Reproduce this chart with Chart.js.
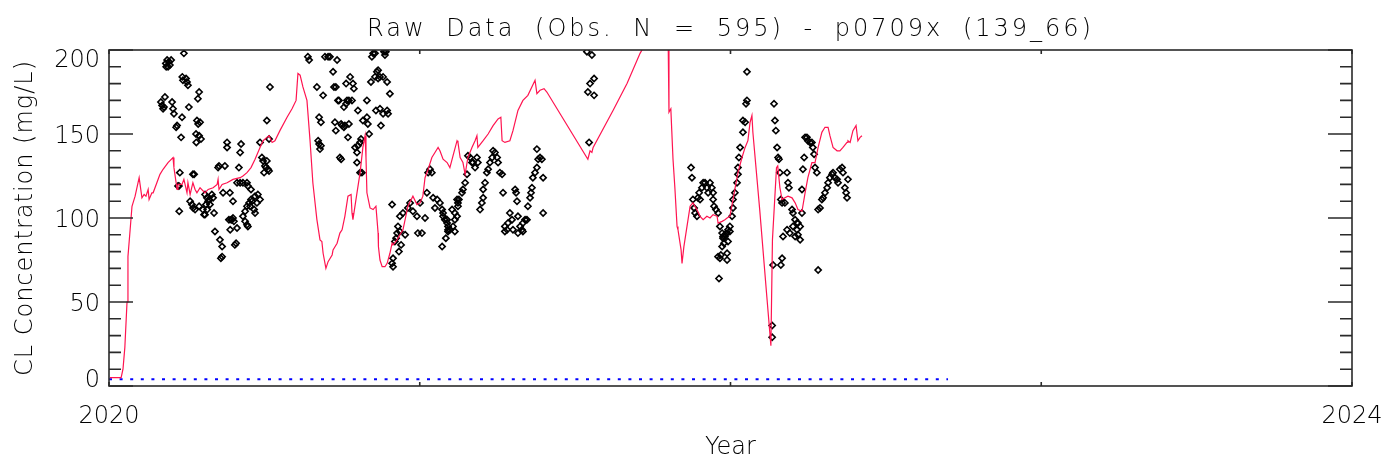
<!DOCTYPE html>
<html>
<head>
<meta charset="utf-8">
<title>Raw Data - p0709x</title>
<script src="https://cdn.jsdelivr.net/npm/chart.js@4.4.1/dist/chart.umd.min.js"></script>
<style>
  html, body { margin: 0; padding: 0; background: #fff; }
  #wrap { width: 1388px; height: 466px; }
</style>
</head>
<body>
<div id="wrap"><canvas id="rawChart" width="1388" height="466"></canvas></div>
<script>
// observations: decimal year / CL concentration (mg/L)
var obsYear = [
  2020.167, 2020.171, 2020.174, 2020.177, 2020.180, 2020.183, 2020.187, 2020.190, 2020.193, 2020.196,
  2020.200, 2020.184, 2020.203, 2020.206, 2020.209, 2020.216, 2020.219, 2020.232, 2020.235, 2020.241,
  2020.236, 2020.238, 2020.251, 2020.254, 2020.248, 2020.257, 2020.290, 2020.286, 2020.283, 2020.287,
  2020.293, 2020.280, 2020.290, 2020.296, 2020.281,
  2020.228, 2020.222, 2020.225, 2020.226, 2020.270, 2020.274, 2020.261, 2020.267, 2020.271, 2020.277,
  2020.290, 2020.302, 2020.306, 2020.309, 2020.309, 2020.315, 2020.319, 2020.325, 2020.331, 2020.335,
  2020.322, 2020.312, 2020.316, 2020.338, 2020.341, 2020.351, 2020.354, 2020.367, 2020.380, 2020.380,
  2020.373, 2020.389, 2020.399, 2020.386, 2020.393, 2020.396, 2020.399, 2020.402, 2020.390, 2020.412,
  2020.418, 2020.425, 2020.422, 2020.412, 2020.422, 2020.431, 2020.444, 2020.447, 2020.457, 2020.431,
  2020.438, 2020.444, 2020.447, 2020.438, 2020.444, 2020.451, 2020.457, 2020.460, 2020.454, 2020.470,
  2020.479, 2020.486, 2020.476, 2020.467, 2020.470, 2020.486, 2020.492, 2020.496, 2020.502, 2020.508,
  2020.505, 2020.512, 2020.515, 2020.499, 2020.518, 2020.508, 2020.515, 2020.357, 2020.364, 2020.360,
  2020.364, 2020.405, 2020.409,
  2020.640, 2020.644, 2020.695, 2020.705, 2020.711, 2020.734, 2020.669, 2020.689, 2020.676, 2020.682,
  2020.673, 2020.676, 2020.682, 2020.679, 2020.721, 2020.724, 2020.730, 2020.727, 2020.730, 2020.737,
  2020.740, 2020.743, 2020.747, 2020.750, 2020.747, 2020.756, 2020.759, 2020.769, 2020.772, 2020.756,
  2020.763, 2020.766, 2020.776, 2020.785, 2020.788, 2020.782, 2020.763, 2020.772, 2020.801, 2020.792,
  2020.798, 2020.801, 2020.808, 2020.811, 2020.798, 2020.808, 2020.814, 2020.817, 2020.830, 2020.833,
  2020.837, 2020.830, 2020.846, 2020.850, 2020.856, 2020.843, 2020.856, 2020.866, 2020.872, 2020.882,
  2020.895, 2020.904, 2020.859, 2020.872, 2020.882, 2020.895, 2020.898, 2020.862, 2020.866, 2020.888,
  2020.885, 2020.891, 2020.875, 2020.911,
  2020.914, 2020.914, 2020.911, 2020.920, 2020.924, 2020.927, 2020.936, 2020.953, 2020.930, 2020.936,
  2020.946, 2020.962, 2020.969, 2020.978, 2020.991, 2021.001, 2020.994, 2021.007, 2021.017, 2021.023,
  2021.027, 2021.033, 2021.039, 2021.043, 2021.049, 2021.056, 2021.065, 2021.075, 2021.088, 2021.091,
  2021.104, 2021.113, 2021.120, 2021.123, 2021.072, 2021.075, 2021.081, 2021.088, 2021.091, 2021.097,
  2021.107, 2021.113, 2021.120, 2021.123, 2021.126, 2021.136, 2021.139, 2021.146, 2021.152, 2021.155,
  2021.162, 2021.168, 2021.171, 2021.178, 2021.184, 2021.187, 2021.194, 2021.200, 2021.204, 2021.204,
  2021.210, 2021.216, 2021.220, 2021.226, 2021.233, 2021.236, 2021.242, 2021.249, 2021.252, 2021.258,
  2021.265, 2021.268, 2021.274, 2021.281, 2021.284, 2021.290, 2021.297, 2021.300, 2021.307, 2021.310,
  2021.313, 2021.316, 2021.323, 2021.329, 2021.332, 2021.339, 2021.345, 2021.348, 2021.355, 2021.358,
  2021.361, 2021.364, 2021.371, 2021.377, 2021.381, 2021.387, 2021.393, 2021.397, 2021.377, 2021.397,
  2021.072, 2021.084, 2021.091, 2021.113, 2021.274, 2021.316, 2021.332, 2020.933, 2020.940,
  2021.541, 2021.548, 2021.561, 2021.561, 2021.545, 2021.538, 2021.554,
  2021.873, 2021.876, 2021.879, 2021.883, 2021.886, 2021.892, 2021.895, 2021.899, 2021.902, 2021.908,
  2021.912, 2021.918, 2021.924, 2021.928, 2021.934, 2021.940, 2021.944, 2021.944, 2021.947, 2021.953,
  2021.960, 2021.966, 2021.973, 2021.976, 2021.982, 2021.989, 2021.992, 2021.998, 2022.005, 2022.008,
  2022.008, 2022.014, 2022.021, 2022.024, 2022.024, 2022.027, 2022.031, 2022.040, 2022.040, 2022.047,
  2022.053, 2022.050, 2022.053, 2021.960, 2021.966, 2021.973, 2021.976, 2021.982, 2021.989, 2021.989,
  2021.992, 2021.998, 2021.963, 2021.969, 2021.979,
  2022.140, 2022.143, 2022.146, 2022.150, 2022.153, 2022.156, 2022.159, 2022.162, 2022.166, 2022.175,
  2022.182, 2022.185, 2022.188, 2022.198, 2022.201, 2022.208, 2022.214, 2022.217, 2022.224, 2022.230,
  2022.230, 2022.233, 2022.237, 2022.240, 2022.246, 2022.249, 2022.256, 2022.262, 2022.265, 2022.269,
  2022.272, 2022.278, 2022.282, 2022.288, 2022.294, 2022.298, 2022.304, 2022.311, 2022.314, 2022.320,
  2022.327, 2022.330, 2022.336, 2022.343, 2022.346, 2022.352, 2022.359, 2022.362, 2022.368, 2022.372,
  2022.375, 2022.378, 2022.137, 2022.134, 2022.134, 2022.169, 2022.166, 2022.162, 2022.182, 2022.191,
  2022.208, 2022.217, 2022.224, 2022.282, 2022.201, 2022.214,
];
var obsConc = [
  169, 167, 165, 166, 172, 192, 194, 190, 193, 191,
  194, 190, 169, 165, 162, 154, 155, 148, 160, 198,
  184, 182, 181, 179, 183, 166, 175, 171, 158, 156,
  157, 150, 149, 147, 145,
  127, 119, 119, 104, 126, 126, 110, 108, 106, 105,
  107, 105, 102, 102, 114, 112, 110, 108, 114, 112,
  111, 108, 105, 103, 92, 130, 131, 115, 142, 145,
  131, 115, 110, 99, 99, 99, 100, 98, 93, 94,
  130, 144, 139, 121, 121, 121, 121, 119, 117, 101,
  98, 96, 95, 104, 107, 109, 111, 110, 107, 113,
  114, 111, 109, 105, 103, 145, 136, 134, 131, 134,
  130, 129, 128, 127, 178, 158, 147, 87, 83, 76,
  77, 84, 85,
  196, 194, 196, 196, 196, 194, 178, 173, 160, 157,
  146, 144, 143, 141, 187, 178, 178, 157, 152, 170,
  170, 136, 135, 155, 156, 154, 155, 148, 156, 166,
  168, 170, 184, 180, 177, 170, 180, 170, 164, 142,
  139, 143, 145, 147, 133, 127, 127, 158, 160, 156,
  150, 170, 196, 198, 198, 181, 184, 183, 184, 184,
  181, 174, 164, 165, 162, 164, 162, 187, 188, 197,
  199, 199, 155, 108,
  76, 71, 73, 86, 88, 91, 92, 90, 95, 101,
  103, 106, 109, 104, 101, 109, 91, 91, 100, 115,
  127, 129, 127, 112, 106, 111, 109, 103, 99, 93,
  105, 103, 111, 109, 105, 101, 99, 97, 95, 93,
  95, 99, 101, 107, 111, 115, 117, 121, 126, 137,
  136, 133, 133, 130, 136, 133, 105, 109, 112, 117,
  121, 127, 129, 133, 136, 140, 139, 136, 133, 127,
  126, 115, 95, 93, 97, 103, 99, 93, 117, 115,
  110, 101, 95, 93, 97, 99, 99, 107, 112, 115,
  118, 124, 127, 130, 135, 136, 135, 124, 141, 103,
  83, 88, 92, 92, 92, 91, 92, 80, 84,
  175, 180, 183, 173, 145, 199, 197,
  130, 124, 111, 106, 103, 101, 112, 115, 111, 118,
  121, 121, 118, 115, 121, 118, 115, 111, 107, 105,
  103, 95, 91, 89, 89, 91, 93, 95, 101, 106,
  111, 115, 121, 126, 130, 136, 142, 151, 158, 157,
  170, 168, 187, 77, 76, 83, 88, 90, 79, 75,
  86, 92, 64, 78, 85,
  168, 158, 152, 142, 136, 135, 127, 111, 109, 109,
  127, 121, 118, 105, 103, 99, 97, 97, 95, 103,
  117, 129, 136, 148, 148, 146, 145, 145, 142, 138,
  130, 127, 105, 106, 111, 112, 115, 118, 121, 124,
  126, 127, 124, 123, 121, 129, 130, 127, 118, 115,
  112, 123, 72, 36, 29, 89, 76, 72, 93, 91,
  89, 90, 87, 69, 95, 93,
];

// model curve (red)
var modelYear = [
  2020.003, 2020.039, 2020.045, 2020.051, 2020.058, 2020.061, 2020.068, 2020.074, 2020.084, 2020.097,
  2020.106, 2020.113, 2020.119, 2020.126, 2020.129, 2020.138, 2020.142, 2020.154, 2020.164, 2020.174,
  2020.190, 2020.206, 2020.209, 2020.216, 2020.219, 2020.222, 2020.235, 2020.241, 2020.251, 2020.254,
  2020.261, 2020.270, 2020.277, 2020.283, 2020.293, 2020.309, 2020.319, 2020.335, 2020.348, 2020.351,
  2020.354, 2020.364, 2020.380, 2020.399, 2020.422, 2020.431, 2020.444, 2020.457, 2020.470, 2020.486,
  2020.496, 2020.508, 2020.515, 2020.525, 2020.534, 2020.550, 2020.573, 2020.589, 2020.602, 2020.608,
  2020.615, 2020.624, 2020.637, 2020.647, 2020.656, 2020.669, 2020.679, 2020.685, 2020.689, 2020.698,
  2020.705, 2020.718, 2020.721, 2020.734, 2020.743, 2020.750, 2020.759, 2020.769, 2020.779, 2020.782,
  2020.785, 2020.798, 2020.808, 2020.817, 2020.824, 2020.827, 2020.830, 2020.840, 2020.850, 2020.859,
  2020.866, 2020.867, 2020.872, 2020.879, 2020.888, 2020.895, 2020.904, 2020.911, 2020.914, 2020.927,
  2020.936, 2020.946, 2020.962, 2020.978, 2020.991, 2021.001, 2021.010, 2021.017, 2021.027, 2021.039,
  2021.049, 2021.059, 2021.065, 2021.075, 2021.088, 2021.097, 2021.107, 2021.120, 2021.123, 2021.130,
  2021.139, 2021.146, 2021.155, 2021.168, 2021.178, 2021.184, 2021.187, 2021.204, 2021.220, 2021.236,
  2021.252, 2021.261, 2021.265, 2021.274, 2021.290, 2021.300, 2021.316, 2021.332, 2021.348, 2021.371,
  2021.377, 2021.387, 2021.400, 2021.409, 2021.541, 2021.548, 2021.554, 2021.558, 2021.622, 2021.667,
  2021.709, 2021.718, 2021.760, 2021.799, 2021.802, 2021.808, 2021.811, 2021.815, 2021.821, 2021.828,
  2021.831, 2021.841, 2021.844, 2021.850, 2021.860, 2021.870, 2021.879, 2021.892, 2021.902, 2021.912,
  2021.924, 2021.934, 2021.944, 2021.957, 2021.960, 2021.973, 2021.982, 2021.989, 2021.998, 2022.008,
  2022.014, 2022.024, 2022.037, 2022.047, 2022.056, 2022.063, 2022.069, 2022.072, 2022.094, 2022.117,
  2022.130, 2022.135, 2022.148, 2022.152, 2022.159, 2022.166, 2022.175, 2022.185, 2022.198, 2022.208,
  2022.217, 2022.230, 2022.240, 2022.249, 2022.262, 2022.272, 2022.282, 2022.294, 2022.304, 2022.314,
  2022.320, 2022.330, 2022.343, 2022.352, 2022.362, 2022.375, 2022.378, 2022.385, 2022.394, 2022.404,
  2022.410, 2022.417, 2022.423,
];
var modelConc = [
  5, 5, 10, 23, 50, 77, 93, 107, 113, 124,
  112, 114, 113, 117, 111, 115, 115, 121, 126, 129,
  133, 136, 130, 121, 117, 120, 120, 123, 115, 121,
  114, 121, 117, 115, 118, 115, 117, 118, 120, 123,
  117, 120, 121, 123, 124, 125, 127, 130, 135, 142,
  146, 148, 149, 145, 146, 152, 160, 165, 170, 186,
  185, 178, 170, 146, 121, 99, 87, 86, 79, 70,
  74, 78, 81, 85, 91, 93, 101, 113, 114, 103,
  99, 115, 127, 142, 149, 136, 115, 106, 105, 107,
  91, 83, 75, 71, 71, 73, 79, 85, 84, 87,
  90, 93, 107, 113, 108, 109, 113, 124, 129, 136,
  139, 142, 140, 135, 133, 130, 137, 146, 145, 136,
  133, 126, 136, 142, 146, 149, 142, 146, 150, 155,
  159, 160, 146, 145, 146, 152, 164, 170, 173, 182,
  174, 176, 177, 175, 135, 140, 139, 142, 164, 180,
  198, 201, 225, 212, 163, 165, 152, 135, 118, 95,
  93, 81, 73, 83, 95, 107, 109, 105, 101, 99,
  101, 100, 102, 101, 97, 98, 99, 100, 101, 111,
  117, 127, 136, 142, 146, 157, 161, 151, 105, 53,
  24, 87, 130, 131, 118, 111, 112, 113, 112, 109,
  105, 104, 115, 124, 133, 133, 142, 151, 154, 154,
  149, 142, 140, 140, 142, 145, 146, 145, 152, 155,
  146, 148, 149,
];

// blue dotted reference line
var baseYear = [2020.0, 2022.70];
var baseConc = [4, 4];

// axis ticks and labels
var yearTicks = [2020, 2021, 2022, 2023, 2024];
var yearLabels = ["2020", "", "", "", "2024"];
var concTicks = [0, 50, 100, 150, 200];
var concMinorStep = 10;

var titleText = "Raw Data (Obs. N = 595) - p0709x (139_66)";
var xTitle = "Year";
var yTitle = "CL Concentration (mg/L)";

function toXY(xs, ys) {
  var out = [];
  for (var i = 0; i < xs.length; i++) {
    out.push({ x: xs[i], y: ys[i] });
  }
  return out;
}

var FONT = "300 24px 'DejaVu Sans', sans-serif";
var INK = "#000";

// IDL style frame: inward ticks on all four sides, labels clamped inside the plot height
var idlAxes = {
  id: "idlAxes",
  afterDraw: function (chart) {
    var ctx = chart.ctx;
    var a = chart.chartArea;
    var xs = chart.scales.x;
    var ys = chart.scales.y;
    ctx.save();
    ctx.strokeStyle = "#2a2a2a";
    ctx.lineWidth = 1.6;
    ctx.strokeRect(a.left, a.top, a.right - a.left, a.bottom - a.top);

    // y ticks (major + minor), left and right
    for (var v = ys.min; v <= ys.max; v += concMinorStep) {
      var py = ys.getPixelForValue(v);
      var len = concTicks.indexOf(v) >= 0 ? 24 : 12;
      ctx.beginPath();
      ctx.moveTo(a.left, py);
      ctx.lineTo(a.left + len, py);
      ctx.moveTo(a.right, py);
      ctx.lineTo(a.right - len, py);
      ctx.stroke();
    }
    // x ticks, bottom and top
    yearTicks.forEach(function (t) {
      var px = xs.getPixelForValue(t);
      ctx.beginPath();
      ctx.moveTo(px, a.bottom);
      ctx.lineTo(px, a.bottom - 4);
      ctx.moveTo(px, a.top);
      ctx.lineTo(px, a.top + 4);
      ctx.stroke();
    });

    ctx.fillStyle = INK;
    ctx.font = FONT;
    ctx.textBaseline = "alphabetic";

    // y tick labels
    ctx.textAlign = "right";
    concTicks.forEach(function (t) {
      var py = ys.getPixelForValue(t) + 9;
      py = Math.max(a.top + 17, Math.min(a.bottom + 1, py));
      ctx.fillText(String(t), a.left - 9, py);
    });

    // x tick labels
    ctx.textAlign = "center";
    yearTicks.forEach(function (t, i) {
      if (yearLabels[i]) {
        ctx.fillText(yearLabels[i], xs.getPixelForValue(t), a.bottom + 37);
      }
    });

    var cx = (a.left + a.right) / 2;
    var cy = (a.top + a.bottom) / 2;

    // x title
    ctx.fillText(xTitle, cx, a.bottom + 68);

    // title
    ctx.letterSpacing = "3px";
    ctx.wordSpacing = "9px";
    ctx.fillText(titleText, cx, 36);

    // y title
    ctx.letterSpacing = "1px";
    ctx.wordSpacing = "0px";
    ctx.translate(32, cy);
    ctx.rotate(-Math.PI / 2);
    ctx.fillText(yTitle, 0, 0);
    ctx.restore();
  },
};

var rawChart = new Chart(document.getElementById("rawChart"), {
  type: "scatter",
  data: {
    datasets: [
      {
        label: "model",
        type: "line",
        data: toXY(modelYear, modelConc),
        borderColor: "#ff1450",
        borderWidth: 1.2,
        pointRadius: 0,
        fill: false,
        tension: 0,
      },
      {
        label: "observed",
        data: toXY(obsYear, obsConc),
        pointStyle: "rectRot",
        pointRadius: 3.1,
        borderColor: "#000",
        borderWidth: 1.6,
        backgroundColor: "rgba(0,0,0,0)",
      },
      {
        label: "zero",
        type: "line",
        data: toXY(baseYear, baseConc),
        borderColor: "#0000ff",
        borderWidth: 2,
        borderDash: [3, 7.6],
        pointRadius: 0,
        fill: false,
      },
    ],
  },
  options: {
    responsive: false,
    animation: false,
    layout: {
      padding: { top: 50, right: 36, left: 0, bottom: 0 },
    },
    plugins: {
      legend: { display: false },
      tooltip: { enabled: false },
      title: { display: false },
    },
    scales: {
      x: {
        type: "linear",
        min: 2020,
        max: 2024,
        grid: { display: false },
        border: { display: false },
        ticks: { display: false },
        afterFit: function (s) { s.height = 80; },
      },
      y: {
        type: "linear",
        min: 0,
        max: 200,
        grid: { display: false },
        border: { display: false },
        ticks: { display: false },
        afterFit: function (s) { s.width = 109; },
      },
    },
  },
  plugins: [idlAxes],
});
</script>
</body>
</html>
